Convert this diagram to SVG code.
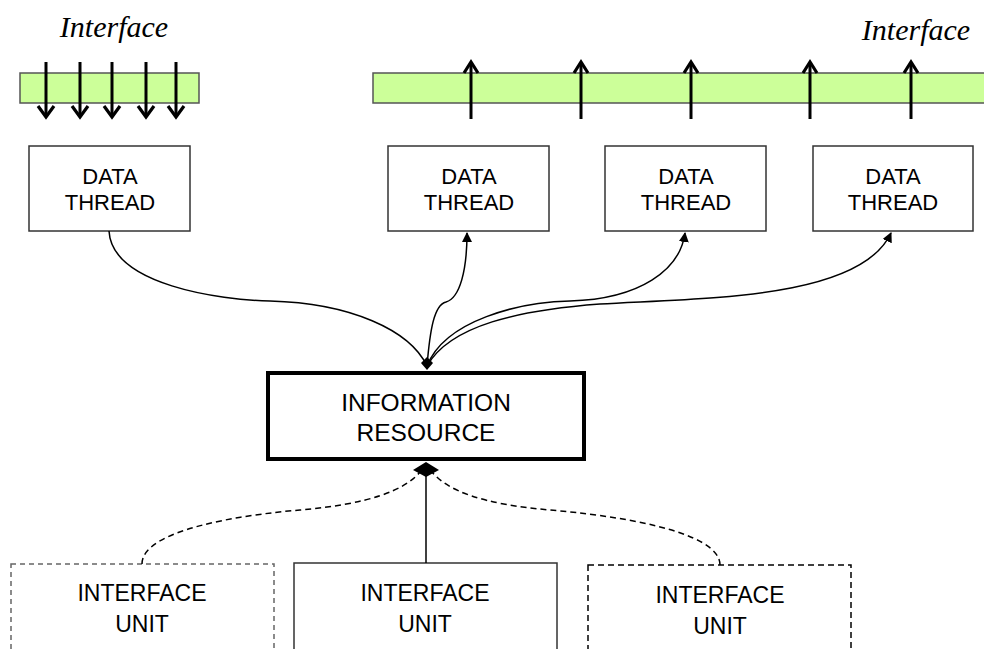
<svg xmlns="http://www.w3.org/2000/svg" width="984" height="649" viewBox="0 0 984 649">
<defs>
<style>
.bar{fill:#ccff99;stroke:#555;stroke-width:1.5}
.box{fill:#fff;stroke:#333;stroke-width:1.5}
.lbl{font-family:"Liberation Sans",Arial,sans-serif;fill:#000;text-anchor:middle}
.ital{font-family:"Liberation Serif","Times New Roman",serif;font-style:italic;font-size:30px;text-anchor:middle;fill:#000}
.sh{stroke:#000;stroke-width:3;fill:none}
.ch{stroke:#000;stroke-width:3.2;fill:none;stroke-linecap:butt;stroke-linejoin:miter}
.con{stroke:#000;stroke-width:1.5;fill:none}
.dash{stroke:#000;stroke-width:1.5;fill:none;stroke-dasharray:6,4}
</style>
<marker id="ah" viewBox="0 0 10 10" refX="9" refY="5" markerWidth="10" markerHeight="10" markerUnits="userSpaceOnUse" orient="auto">
<path d="M0,0 L10,5 L0,10 z" fill="#000"/>
</marker>
</defs>

<g id="iface-left">
<text class="ital" x="114" y="37">Interface</text>
<rect class="bar" x="20" y="73" width="179" height="30"/>
<g>
<path class="sh" d="M46,62 V117"/><path class="ch" d="M38,106 L46,117 L54,106"/>
<path class="sh" d="M80,62 V117"/><path class="ch" d="M72,106 L80,117 L88,106"/>
<path class="sh" d="M112,62 V117"/><path class="ch" d="M104,106 L112,117 L120,106"/>
<path class="sh" d="M146,62 V117"/><path class="ch" d="M138,106 L146,117 L154,106"/>
<path class="sh" d="M176,62 V117"/><path class="ch" d="M168,106 L176,117 L184,106"/>
</g>
</g>

<g id="iface-right">
<text class="ital" x="916" y="40">Interface</text>
<rect class="bar" x="373" y="73" width="614" height="30"/>
<g>
<path class="sh" d="M471,119 V62"/><path class="ch" d="M464,73 L471,62 L478,73"/>
<path class="sh" d="M581,119 V62"/><path class="ch" d="M574,73 L581,62 L588,73"/>
<path class="sh" d="M691,119 V62"/><path class="ch" d="M684,73 L691,62 L698,73"/>
<path class="sh" d="M810,119 V62"/><path class="ch" d="M803,73 L810,62 L817,73"/>
<path class="sh" d="M911,119 V62"/><path class="ch" d="M904,73 L911,62 L918,73"/>
</g>
</g>

<g id="dt1">
<rect class="box" x="29" y="146" width="161" height="85"/>
<text class="lbl" font-size="22" x="110" y="184">DATA</text>
<text class="lbl" font-size="22" x="110" y="210">THREAD</text>
</g>
<g id="dt2">
<rect class="box" x="388" y="146" width="161" height="85"/>
<text class="lbl" font-size="22" x="469" y="184">DATA</text>
<text class="lbl" font-size="22" x="469" y="210">THREAD</text>
</g>
<g id="dt3">
<rect class="box" x="605" y="146" width="161" height="85"/>
<text class="lbl" font-size="22" x="686" y="184">DATA</text>
<text class="lbl" font-size="22" x="686" y="210">THREAD</text>
</g>
<g id="dt4">
<rect class="box" x="813" y="146" width="160" height="85"/>
<text class="lbl" font-size="22" x="893" y="184">DATA</text>
<text class="lbl" font-size="22" x="893" y="210">THREAD</text>
</g>

<g id="info">
<rect x="268" y="373" width="316" height="86" fill="#fff" stroke="#000" stroke-width="4"/>
<text class="lbl" font-size="24.5" x="426" y="411">INFORMATION</text>
<text class="lbl" font-size="24.5" x="426" y="441">RESOURCE</text>
</g>

<g id="iu1">
<rect x="11" y="564" width="263" height="90" fill="#fff" stroke="#666" stroke-width="1.5" stroke-dasharray="5,4"/>
<text class="lbl" font-size="23" x="142" y="601">INTERFACE</text>
<text class="lbl" font-size="23" x="142" y="632">UNIT</text>
</g>
<g id="iu2">
<rect class="box" x="294" y="563" width="263" height="90"/>
<text class="lbl" font-size="23" x="425" y="601">INTERFACE</text>
<text class="lbl" font-size="23" x="425" y="632">UNIT</text>
</g>
<g id="iu3">
<rect x="588" y="565" width="263" height="90" fill="#fff" stroke="#000" stroke-width="1.5" stroke-dasharray="6,4"/>
<text class="lbl" font-size="23" x="720" y="603">INTERFACE</text>
<text class="lbl" font-size="23" x="720" y="634">UNIT</text>
</g>

<g id="connectors">
<path class="con" d="M109,231 C112,285 220,300 270,301 C350,303 410,330 427,366"/>
<path class="con" marker-end="url(#ah)" d="M427,366 C430,330 434,305 446,302 C460,298 467,270 467,233"/>
<path class="con" marker-end="url(#ah)" d="M427,366 C445,320 520,302 570,301 C640,299 680,270 685,233"/>
<path class="con" marker-end="url(#ah)" d="M427,366 C450,325 520,310 600,304 C700,298 860,300 891,233"/>
<path d="M427,357 L433,363 L427,370 L421,363 z" fill="#000"/>
<path class="dash" d="M142,564 C142,530 240,515 300,510 C370,504 405,490 420,472"/>
<path class="dash" d="M720,565 C720,530 610,515 550,510 C480,504 447,490 432,472"/>
<path class="con" d="M426,476 V563"/>
<path d="M426,462 L439,470 L426,477 L413,470 z" fill="#000"/>
</g>
</svg>
